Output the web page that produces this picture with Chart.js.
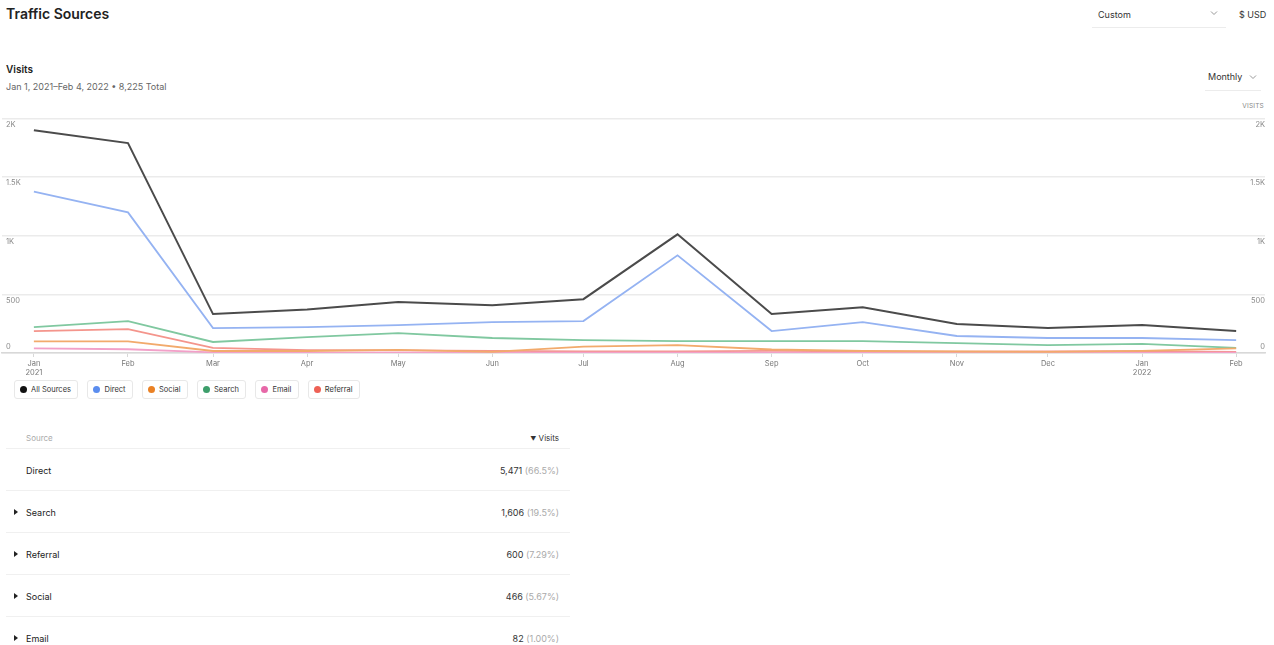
<!DOCTYPE html>
<html>
<head>
<meta charset="utf-8">
<script src="https://cdn.jsdelivr.net/npm/chart.js@4"></script>
<style>
  body { margin: 0; width: 1274px; height: 645px; background: #fff; font-family: Inter, "Noto Sans", sans-serif; color: #222; position: relative; overflow: hidden; }
  .abs { position: absolute; }
  #title { left: 6px; top: 5px; font-size: 14px; font-weight: 600; color: #222; }
  .dd { border-bottom: 1px solid #ececec; font-size: 9px; color: #333; }
  .dd svg { position: absolute; right: 10px; top: 3px; }
  #visits { left: 6px; top: 63px; font-size: 10px; font-weight: 600; }
  #sub { left: 6px; top: 81px; font-size: 9px; color: #666; }
  #vlabel { right: 10px; top: 102px; font-size: 6.5px; color: #888; letter-spacing: 0.2px; }
  #chartbox { left: 0; top: 110px; width: 1274px; height: 268px; }
  #legend { left: 14px; top: 380px; display: flex; gap: 9px; }
  .lg { border: 1px solid #e8e8e8; border-radius: 3px; height: 17px; padding: 0 6.5px 0 5px; display: flex; align-items: center; font-size: 7.5px; color: #333; }
  .lg i { width: 7px; height: 7px; border-radius: 50%; margin-right: 4px; display: inline-block; }
  #table { left: 6px; top: 427px; width: 564px; font-size: 9px; }
  .hdr { height: 21px; border-bottom: 1px solid #f0f0f0; position: relative; color: #aaa; font-size: 8px; }
  .row { height: 41px; border-bottom: 1px solid #f0f0f0; position: relative; }
  .row span, .hdr span { position: absolute; top: 50%; transform: translateY(-50%); }
  .nm { left: 20px; }
  .val { right: 11px; color: #333; }
  .val em { font-style: normal; color: #aaa; }
  .tri { left: 8px; width: 0; height: 0; border-top: 3px solid transparent; border-bottom: 3px solid transparent; border-left: 4px solid #222; }
</style>
</head>
<body>
<div id="title" class="abs">Traffic Sources</div>
<div class="abs dd" style="left:1092px; top:7px; width:134px; height:20px;"><span style="position:absolute; left:6px; top:2px;">Custom</span><svg width="8" height="6" viewBox="0 0 8 6" style="right:8px;"><polyline points="1,1.5 4,4.5 7,1.5" fill="none" stroke="#999" stroke-width="1"/></svg></div>
<div class="abs" style="left:1239px; top:9px; font-size:9px; color:#333;">$ USD</div>
<div id="visits" class="abs">Visits</div>
<div id="sub" class="abs">Jan 1, 2021–Feb 4, 2022 • 8,225 Total</div>
<div class="abs dd" style="left:1205px; top:70px; width:56px; height:20px;"><span style="position:absolute; left:3px; top:1px;">Monthly</span><svg width="8" height="6" viewBox="0 0 8 6" style="right:4px; top:4px;"><polyline points="1,1.5 4,4.5 7,1.5" fill="none" stroke="#999" stroke-width="1"/></svg></div>
<div id="vlabel" class="abs">VISITS</div>
<div id="chartbox" class="abs"><canvas id="traffic-chart"></canvas></div>
<div id="legend" class="abs"></div>
<div id="table" class="abs"></div>
<script>
const months = ['2021-01-01', '2021-02-01', '2021-03-01', '2021-04-01', '2021-05-01', '2021-06-01', '2021-07-01',
  '2021-08-01', '2021-09-01', '2021-10-01', '2021-11-01', '2021-12-01', '2022-01-01', '2022-02-01'];
const monthLabels = [['Jan', '2021'], 'Feb', 'Mar', 'Apr', 'May', 'Jun', 'Jul', 'Aug', 'Sep', 'Oct', 'Nov', 'Dec', ['Jan', '2022'], 'Feb'];
const yTicks = [0, 500, 1000, 1500, 2000];
const yTickLabels = ['0', '500', '1K', '1.5K', '2K'];

const allSources = [1900, 1790, 332, 372, 434, 408, 459, 1012, 332, 391, 247, 213, 238, 187];
const direct = [1377, 1199, 213, 221, 238, 264, 272, 833, 187, 264, 145, 128, 128, 110];
const social = [100, 100, 17, 17, 26, 9, 55, 68, 30, 17, 13, 10, 18, 40];
const search = [221, 272, 94, 136, 170, 128, 110, 102, 102, 102, 85, 68, 77, 43];
const email = [40, 32, 6, 3, 3, 2, 2, 2, 2, 1, 1, 1, 1, 2];
const referral = [187, 204, 43, 25, 22, 18, 14, 14, 18, 14, 12, 14, 16, 10];

const tableSources = ['Direct', 'Search', 'Referral', 'Social', 'Email'];
const tableVisits = ['5,471', '1,606', '600', '466', '82'];
const tableShares = ['66.5%', '19.5%', '7.29%', '5.67%', '1.00%'];

// x positions are days since the first month
const dayMs = 24 * 3600 * 1000;
const start = Date.parse(months[0]);
const days = months.map(m => (Date.parse(m) - start) / dayMs);
const pts = arr => arr.map((v, i) => ({ x: days[i], y: v }));

const series = [
  { label: 'All Sources', data: allSources, line: '#4b4b4b', dot: '#111111', width: 2 },
  { label: 'Direct', data: direct, line: '#95b3f2', dot: '#5b8def', width: 1.8 },
  { label: 'Social', data: social, line: '#f2aa6c', dot: '#ea8124', width: 1.8 },
  { label: 'Search', data: search, line: '#80c8a0', dot: '#3d9e6b', width: 1.8 },
  { label: 'Email', data: email, line: '#f2a0c8', dot: '#e768a8', width: 1.8 },
  { label: 'Referral', data: referral, line: '#f4958c', dot: '#ee6155', width: 1.8 },
];

const legend = document.getElementById('legend');
series.forEach(s => {
  const b = document.createElement('div');
  b.className = 'lg';
  b.innerHTML = '<i style="background:' + s.dot + '"></i>' + s.label;
  legend.appendChild(b);
});

const table = document.getElementById('table');
let html = '<div class="hdr"><span class="nm">Source</span><span class="val" style="color:#333"><span style="position:static;font-size:6px;">&#9660;</span> Visits</span></div>';
tableSources.forEach((name, i) => {
  html += '<div class="row">' + (i > 0 ? '<span class="tri"></span>' : '') +
    '<span class="nm">' + name + '</span><span class="val">' + tableVisits[i] + ' <em>(' + tableShares[i] + ')</em></span></div>';
});
table.innerHTML = html;

const tickFont = { family: 'Inter', size: 7.5 };
const yAxis = (pos, zero) => ({
  type: 'linear',
  position: pos,
  min: 0,
  max: 2000,
  afterBuildTicks: s => { s.ticks = yTicks.map(v => ({ value: v })); },
  afterFit: s => { s.width = 0; },
  grid: { display: !zero && pos === 'left', color: '#ebebeb', lineWidth: 1.5, drawTicks: false },
  border: { display: false },
  ticks: {
    mirror: true,
    padding: pos === 'left' ? 4 : 0,
    labelOffset: zero ? -6 : 6,
    color: '#8a8a8a',
    font: tickFont,
    callback: v => {
      if (zero !== (v === 0)) return '';
      return yTickLabels[yTicks.indexOf(v)];
    },
  },
});

new Chart(document.getElementById('traffic-chart').getContext('2d'), {
  type: 'line',
  data: {
    datasets: series.map(s => ({
      label: s.label,
      data: pts(s.data),
      yAxisID: 'yl',
      borderColor: s.line,
      borderWidth: s.width,
      pointRadius: 0,
      tension: 0,
      fill: false,
    })),
  },
  options: {
    responsive: true,
    maintainAspectRatio: false,
    animation: false,
    layout: { padding: { left: 2, right: 9, top: 8, bottom: 0 } },
    plugins: { legend: { display: false }, tooltip: { enabled: false } },
    scales: {
      x: {
        type: 'linear',
        min: -10.5,
        max: 405.5,
        afterBuildTicks: s => { s.ticks = days.map(v => ({ value: v })); },
        afterFit: s => { s.height = 25; },
        grid: { drawOnChartArea: false, color: '#d8d8d8', tickLength: 4 },
        border: { color: '#d8d8d8', width: 1.5 },
        ticks: {
          color: '#777',
          font: tickFont,
          padding: 2,
          maxRotation: 0,
          autoSkip: false,
          callback: v => monthLabels[days.indexOf(v)],
        },
      },
      yl: yAxis('left', false),
      yl0: yAxis('left', true),
      yr: yAxis('right', false),
      yr0: yAxis('right', true),
    },
  },
});
</script>
</body>
</html>
